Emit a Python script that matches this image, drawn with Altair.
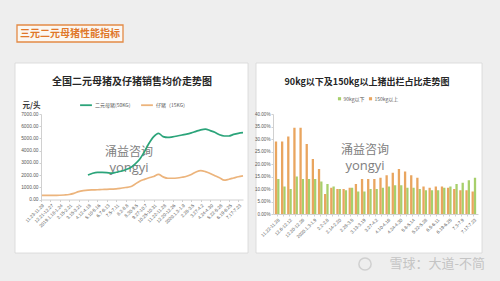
import json
import altair as alt
import pandas as pd

# ---------------- data: left chart (price, yuan/head) ----------------
piglet_weeks = list(range(0, 87, 2))
piglet_price = [340, 340, 330, 340, 350, 370, 410, 500, 640, 720, 770, 790, 800, 820, 830,
                850, 870, 920, 980, 1040, 1250, 1500, 1650, 1780, 1880, 2050, 1850, 1740,
                1740, 1760, 1820, 1900, 2050, 2250, 2360, 2280, 2130, 1950, 1780, 1580,
                1660, 1760, 1860, 1930]
sow_weeks = list(range(20, 87, 2))
sow_price = [2000, 2150, 2220, 2220, 2200, 2160, 2230, 2310, 2440, 2600, 2900, 3300, 3900,
             4600, 5150, 5420, 5150, 5080, 5130, 5200, 5280, 5350, 5450, 5580, 5700, 5760,
             5640, 5500, 5300, 5200, 5200, 5330, 5420, 5470]
left_tick_weeks = list(range(0, 85, 4))
left_labels = ["11.23-11.29", "12.21-12.27", "2019.1.18-1.24", "2.15-2.21", "3.15-3.21",
               "4.12-4.18", "5.10-5.16", "6.7-6.13", "7.5-7.11", "8.2-8.8", "8.30-9.5",
               "9.27-10.7", "10.25-10.31", "11.22-11.28", "12.20-12.26", "2020.1.3-1.9",
               "2.28-3.5", "3.27-4.2", "4.24-4.30", "5.22-5.28", "6.19-6.25", "7.17-7.23"]
left_y_ticks = [0, 1000, 2000, 3000, 4000, 5000, 6000, 7000]
SERIES_L = ["二元母猪(50KG)", "仔猪（15KG）"]

# ---------------- data: right chart (share, %) ----------------
week_index = list(range(33))
share_under90 = [14, 11, 10, 15, 14, 14, 14, 13, 12, 11, 10, 9.5, 10.5, 9, 9, 10, 10, 10.5,
                 11, 11.5, 11.5, 10.5, 10.5, 10, 9.5, 9.5, 9.5, 10.5, 11, 12, 12.5, 13.5, 14.5]
share_over150 = [29, 29, 31, 34.5, 34.5, 28, 22, 18, 8, 10.5, 10, 10, 10.5, 12, 14, 14, 14,
                 14.5, 15.5, 16.5, 18, 17, 15.5, 14.5, 11, 10.5, 11, 11, 10.5, 10, 9.5, 9.5, 9]
right_labels = ["11.22-11.28", "12.6-12.12", "12.20-12.26", "2020.1.3-1.9", "2.2-2.8",
                "2.14-2.20", "2.28-3.5", "3.13-3.19", "3.27-4.2", "4.10-4.16", "4.24-4.30",
                "5.8-5.14", "5.22-5.28", "6.5-6.11", "6.19-6.25", "7.3-7.9", "7.17-7.23"]
right_y_ticks = [0, 5, 10, 15, 20, 25, 30, 35, 40]
SERIES_R = ["90kg以下", "150kg以上"]

# ---------------- styling ----------------
FONT = "Noto Sans CJK SC"
NUMFONT = "Liberation Sans"
GREEN_LINE = "#2ba47a"
ORANGE_LINE = "#ecb47c"
BAR_GREEN = "#a7cf6b"
BAR_ORANGE = "#e9a55f"
LABEL = "#595959"
AXIS = "#d0d0d0"

left_df = pd.concat([
    pd.DataFrame({"week": sow_weeks, "price": sow_price, "series": SERIES_L[0]}),
    pd.DataFrame({"week": piglet_weeks, "price": piglet_price, "series": SERIES_L[1]}),
], ignore_index=True)

right_df = pd.concat([
    pd.DataFrame({"idx": week_index, "share": share_under90, "series": SERIES_R[0]}),
    pd.DataFrame({"idx": week_index, "share": share_over150, "series": SERIES_R[1]}),
], ignore_index=True)

LW, LH = 202, 85.5
RW, RH = 205, 100

left_label_expr = json.dumps(left_labels) + "[round(datum.value/4)]"
left = alt.Chart(left_df).mark_line(strokeWidth=1.7, interpolate="monotone").encode(
    x=alt.X("week:Q", scale=alt.Scale(domain=[0, 86], nice=False, zero=False),
            axis=alt.Axis(values=left_tick_weeks, labelExpr=left_label_expr, labelAngle=-45,
                          labelFontSize=4.6, labelColor=LABEL, labelFont=NUMFONT,
                          domainColor=AXIS, tickColor=AXIS, tickSize=2, labelPadding=1,
                          labelOverlap=False, labelFlush=False, grid=False, title=None,
                          zindex=1)),
    y=alt.Y("price:Q", scale=alt.Scale(domain=[0, 7000], nice=False),
            axis=alt.Axis(values=left_y_ticks, format=".2f", labelFontSize=4.8,
                          labelColor=LABEL, labelFont=NUMFONT, domainColor=AXIS,
                          tickColor=AXIS, tickSize=2, labelPadding=1, grid=False,
                          title="元/头", titleAngle=0, titleX=-10, titleY=-9,
                          titleAlign="center", titleBaseline="middle", titleFont=FONT,
                          titleFontSize=7.5, titleFontWeight="bold", titleColor="#333333",
                          zindex=1)),
    color=alt.Color("series:N",
                    scale=alt.Scale(domain=SERIES_L, range=[GREEN_LINE, ORANGE_LINE]),
                    legend=alt.Legend(orient="none", legendX=38, legendY=-16,
                                      direction="horizontal", title=None,
                                      symbolType="stroke", symbolStrokeWidth=1.8,
                                      symbolSize=140, labelFontSize=5, labelFont=FONT,
                                      labelColor=LABEL, columnPadding=6, labelOffset=2)),
).properties(width=LW, height=LH)

right_label_expr = ("datum.value % 2 == 0 ? " + json.dumps(right_labels)
                    + "[round(datum.value/2)] : ''")
right = alt.Chart(right_df).mark_bar().encode(
    x=alt.X("idx:O", scale=alt.Scale(paddingInner=0.25, paddingOuter=0.3),
            axis=alt.Axis(labelExpr=right_label_expr, labelAngle=-45, labelFontSize=4.6,
                          labelColor=LABEL, labelFont=NUMFONT, domainColor=AXIS,
                          tickColor=AXIS, tickSize=2, labelPadding=1, labelOverlap=False,
                          grid=False, title=None, zindex=1)),
    xOffset=alt.XOffset("series:N", scale=alt.Scale(domain=[SERIES_R[1], SERIES_R[0]])),
    y=alt.Y("share:Q", scale=alt.Scale(domain=[0, 40], nice=False),
            axis=alt.Axis(values=right_y_ticks,
                          labelExpr="format(datum.value, '.2f') + '%'",
                          labelFontSize=4.6, labelColor=LABEL, labelFont=NUMFONT,
                          domainColor=AXIS, tickColor=AXIS, tickSize=2, labelPadding=1,
                          grid=False, title=None, zindex=1)),
    color=alt.Color("series:N",
                    scale=alt.Scale(domain=SERIES_R, range=[BAR_GREEN, BAR_ORANGE]),
                    legend=alt.Legend(orient="none", legendX=64, legendY=-18,
                                      direction="horizontal", title=None,
                                      symbolType="square", symbolSize=10,
                                      symbolStrokeWidth=0, labelFontSize=5,
                                      labelFont=FONT, labelColor=LABEL, columnPadding=3,
                                      labelOffset=1.5)),
).properties(width=RW, height=RH)

# ---------------- decoration layer (slide background, panels, texts) ----------------
one = pd.DataFrame({"k": [0]})


def rect(x, x2, y, y2, **kw):
    return alt.Chart(one).mark_rect(**kw).encode(
        x=alt.value(x), x2=alt.value(x2), y=alt.value(y), y2=alt.value(y2))


def text(t, x, y, **kw):
    return alt.Chart(one).mark_text(text=t, **kw).encode(x=alt.value(x), y=alt.value(y))


header = alt.layer(
    rect(-41, 459, -14, 267, fill="#eeeeee"),
    rect(-26, 207, 49, 239, fill="white", stroke="#d6d6d6", strokeWidth=0.8),
    rect(215, 441, 49, 239, fill="white", stroke="#d6d6d6", strokeWidth=0.8),
    rect(-24, 82, 11, 28, fill="#fbf7f2", stroke="#e38a45", strokeWidth=1.3),
    text("三元二元母猪性能指标", 29, 19.5, font=FONT, fontSize=10, fontWeight="bold",
         color="#e0782a", align="center", baseline="middle"),
    text("全国二元母猪及仔猪销售均价走势图", 91, 68, font=FONT, fontSize=10,
         fontWeight="bold", color="#262626", align="center", baseline="middle"),
    text("90kg以下及150kg以上猪出栏占比走势图", 326, 68, font=FONT, fontSize=9,
         fontWeight="bold", color="#262626", align="center", baseline="middle"),
    text("涌益咨询", 88, 138, font=FONT, fontSize=12, color="#808080", align="center",
         baseline="middle"),
    text("yongyi", 88, 158, font="Open Sans", fontSize=13, color="#808080",
         align="center", baseline="alphabetic"),
    text("涌益咨询", 324, 136, font=FONT, fontSize=12, color="#808080", align="center",
         baseline="middle"),
    text("yongyi", 324, 156, font="Open Sans", fontSize=13, color="#808080",
         align="center", baseline="alphabetic"),
    alt.Chart(one).mark_point(shape="circle", size=150, stroke="#c4c4c4", strokeWidth=1.5,
                              filled=False).encode(x=alt.value(324), y=alt.value(250)),
    text("雪球：大道-不简", 444, 250, font=FONT, fontSize=13, color="#c4c4c4",
         align="right", baseline="middle"),
).properties(width=400, height=100)

panels = alt.hconcat(left, right, spacing=232 - LW, bounds="flush").resolve_scale(
    color="independent").resolve_legend(color="independent")

chart = alt.vconcat(
    header, panels, spacing=0, bounds="flush",
).properties(padding=0).configure(background="#eeeeee").configure_view(strokeWidth=0)

chart.save("out.html", embed_options={"renderer": "svg", "actions": False})
